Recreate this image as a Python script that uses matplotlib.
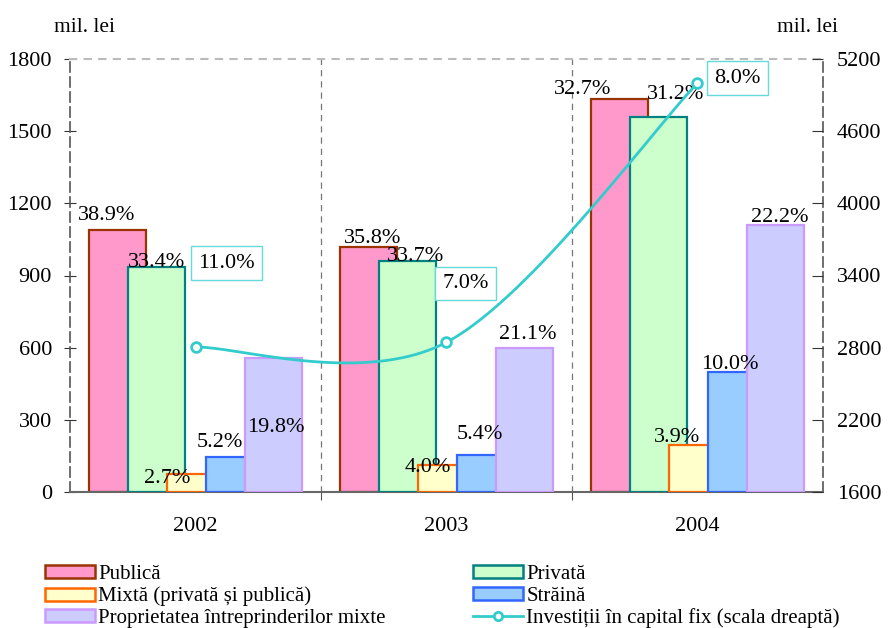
import numpy as np
import matplotlib.pyplot as plt
from matplotlib.patches import Patch
from matplotlib.lines import Line2D

plt.rcParams['font.family'] = ['Liberation Serif', 'DejaVu Serif']

years = ['2002', '2003', '2004']

# valori (mil. lei), scala stanga
publica = [1091, 1018, 1635]
privata = [937, 959, 1560]
mixta = [76, 114, 195]
straina = [146, 154, 500]
proprietatea = [555, 600, 1110]

# investitii in capital fix (mil. lei), scala dreapta
investitii = [2805, 2845, 5000]

pct_publica = ['38.9%', '35.8%', '32.7%']
pct_privata = ['33.4%', '33.7%', '31.2%']
pct_mixta = ['2.7%', '4.0%', '3.9%']
pct_straina = ['5.2%', '5.4%', '10.0%']
pct_proprietatea = ['19.8%', '21.1%', '22.2%']
pct_investitii = ['11.0%', '7.0%', '8.0%']

series = [publica, privata, mixta, straina, proprietatea]
labels = [pct_publica, pct_privata, pct_mixta, pct_straina, pct_proprietatea]
names = ['Publică', 'Privată', 'Mixtă (privată și publică)', 'Străină',
         'Proprietatea întreprinderilor mixte']
faces = ['#FF99CC', '#CCFFCC', '#FFFFCC', '#99CCFF', '#CCCCFF']
edges = ['#993300', '#008080', '#FF6600', '#3366FF', '#CC99FF']

# deplasari etichete (pixeli) fata de varful barei
offs = [
    [(-11, 14), (4, 9), (-37, 9)],
    [(0, 4), (8, 5), (17, 22)],
    [(-28, -5), (-19, -3), (-20, 8)],
    [(-15, 14), (-6, 20), (-7, 7)],
    [(2, -69), (3, 13), (4, 7)],
]
box_offs = [(31, 84), (19, 59), (40, 5)]


def excel_smooth(x, y, n=60):
    pts = np.column_stack([x, y]).astype(float)
    out = [pts[:1]]
    for i in range(len(pts) - 1):
        p0 = pts[max(i - 1, 0)]
        p1 = pts[i]
        p2 = pts[i + 1]
        p3 = pts[min(i + 2, len(pts) - 1)]
        c1 = p1 + (p2 - p0) / 6
        c2 = p2 - (p3 - p1) / 6
        t = np.linspace(0, 1, n)[1:, None]
        seg = (1 - t) ** 3 * p1 + 3 * (1 - t) ** 2 * t * c1 + 3 * (1 - t) * t ** 2 * c2 + t ** 3 * p2
        out.append(seg)
    return np.vstack(out)


fig = plt.figure(figsize=(8.88, 6.28), dpi=100)
ax = fig.add_axes([70 / 888, 136 / 628, 753 / 888, 433 / 628])

x = np.arange(len(years))
w = 0.227
step = 0.156
for i, vals in enumerate(series):
    xs = x + (i - 2) * step
    ax.bar(xs, vals, w, color=faces[i], edgecolor=edges[i], linewidth=1.6, zorder=2 + i)
    for j in range(len(years)):
        ax.annotate(labels[i][j], (xs[j], vals[j]), xytext=offs[i][j],
                    textcoords='offset pixels', ha='center', va='center',
                    fontsize=16, zorder=10)

ax.set_xlim(-0.5, 2.5)
ax.set_ylim(0, 1800)
ax.set_yticks(np.arange(0, 1801, 300))
ax.set_xticks([0.5, 1.5])
ax.set_xticklabels([])
ax.set_xticks(x, minor=True)
ax.set_xticklabels(years, minor=True)
ax.tick_params(axis='x', which='major', length=6, direction='out', color='#555555')
ax.tick_params(axis='x', which='minor', length=0, pad=18, labelsize=16)
ax.tick_params(axis='y', direction='inout', length=8, labelsize=16, color='#333333', pad=9)

for xv in [0.5, 1.5]:
    ax.axvline(xv, color='#777777', linestyle=(0, (5, 4)), linewidth=0.9, zorder=1)

ax.spines['top'].set_color('#BBBBBB')
ax.spines['top'].set_linestyle((0, (3, 4)))
ax.spines['top'].set_linewidth(1.5)
for s in ['left', 'right']:
    ax.spines[s].set_color('#555555')
    ax.spines[s].set_linestyle((0, (6, 3)))
    ax.spines[s].set_linewidth(1.2)
ax.spines['bottom'].set_color('#666666')
ax.spines['bottom'].set_linewidth(1.5)

ax2 = ax.twinx()
ax2.set_ylim(1600, 5200)
ax2.set_yticks(np.arange(1600, 5201, 600))
ax2.tick_params(axis='y', direction='in', length=8, labelsize=16, color='#333333', pad=10)
for s in ax2.spines.values():
    s.set_visible(False)

curve = excel_smooth(x, investitii)
ax2.plot(curve[:, 0], curve[:, 1], color='#33CCCC', linewidth=2, zorder=5)
ax2.plot(x, investitii, linestyle='none', marker='o', markersize=7,
         markerfacecolor='white', markeredgecolor='#33CCCC', markeredgewidth=2, zorder=6)
for j in range(len(years)):
    ax2.annotate(pct_investitii[j], (x[j], investitii[j]), xytext=box_offs[j],
                 textcoords='offset pixels', ha='center', va='center', fontsize=16,
                 bbox=dict(boxstyle='square,pad=0.32', facecolor='white',
                           edgecolor='#66D9D9', linewidth=1))

fig.text(85 / 888, 1 - 27 / 628, 'mil. lei', ha='center', va='center', fontsize=15.5)
fig.text(807 / 888, 1 - 27 / 628, 'mil. lei', ha='center', va='center', fontsize=15.5)

handles = [Patch(facecolor=faces[i], edgecolor=edges[i], linewidth=1.8) for i in range(5)]
line_h = Line2D([], [], color='#33CCCC', linewidth=2, marker='o', markersize=6,
                markerfacecolor='white', markeredgecolor='#33CCCC', markeredgewidth=2)
leg_kw = dict(loc='upper left', frameon=False, fontsize=15, handlelength=2.4,
              handleheight=0.58, handletextpad=0.15, labelspacing=0.13,
              borderaxespad=0, borderpad=0)
fig.legend([handles[0], handles[2], handles[4]], [names[0], names[2], names[4]],
           bbox_to_anchor=(45 / 888, 1 - 565 / 628), **leg_kw)
fig.legend([handles[1], handles[3], line_h],
           [names[1], names[3], 'Investiții în capital fix (scala dreaptă)'],
           bbox_to_anchor=(473 / 888, 1 - 565 / 628), **leg_kw)

fig.savefig('out.png', dpi=100)
